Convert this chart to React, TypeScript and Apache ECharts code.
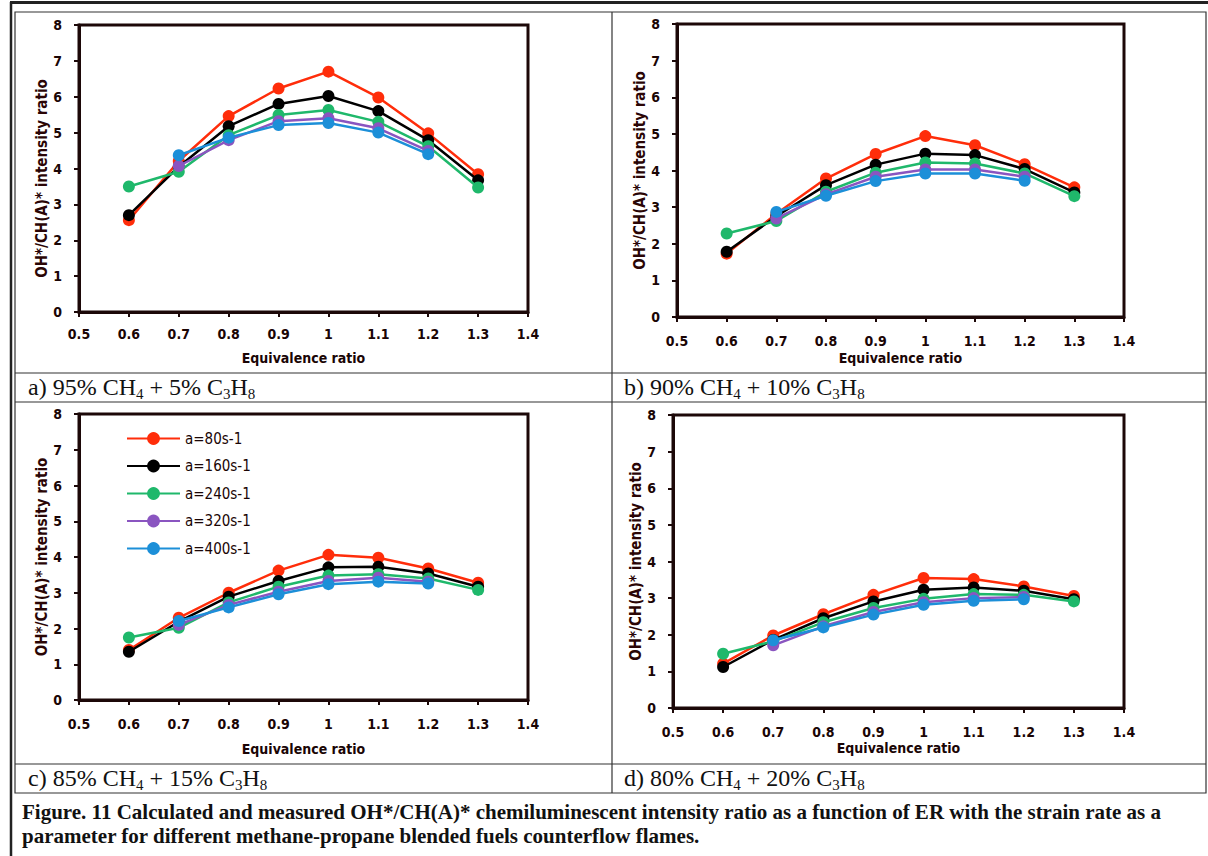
import React, { useEffect, useRef } from "react";
import * as echarts from "echarts";

// ---------- data ----------
const ER = [0.6, 0.7, 0.8, 0.9, 1.0, 1.1, 1.2, 1.3];
const SERIES_NAMES = ["a=80s-1", "a=160s-1", "a=240s-1", "a=320s-1", "a=400s-1"];
const SERIES_COLORS = ["#ff2d0a", "#000000", "#1fb86b", "#8a55c0", "#1c8fd8"];

// a) 95% CH4 + 5% C3H8
const A_80 = [2.56, 4.21, 5.46, 6.23, 6.7, 5.98, 4.98, 3.84];
const A_160 = [2.7, 4.05, 5.18, 5.8, 6.02, 5.6, 4.79, 3.67];
const A_240 = [3.5, 3.91, 4.93, 5.49, 5.63, 5.3, 4.62, 3.47];
const A_320 = [null, 4.07, 4.79, 5.32, 5.4, 5.12, 4.49, null];
const A_400 = [null, 4.37, 4.86, 5.21, 5.27, 5.0, 4.4, null];

// b) 90% CH4 + 10% C3H8
const B_80 = [1.73, 2.82, 3.78, 4.45, 4.94, 4.69, 4.17, 3.54];
const B_160 = [1.78, 2.75, 3.6, 4.16, 4.46, 4.42, 4.04, 3.4];
const B_240 = [2.28, 2.62, 3.42, 3.94, 4.22, 4.19, 3.92, 3.3];
const B_320 = [null, 2.69, 3.35, 3.83, 4.03, 4.03, 3.83, null];
const B_400 = [null, 2.87, 3.31, 3.71, 3.92, 3.92, 3.72, null];

// c) 85% CH4 + 15% C3H8
const C_80 = [1.4, 2.3, 3.0, 3.62, 4.06, 3.98, 3.68, 3.28];
const C_160 = [1.35, 2.19, 2.89, 3.33, 3.71, 3.73, 3.54, 3.17];
const C_240 = [1.75, 2.02, 2.73, 3.17, 3.48, 3.52, 3.4, 3.08];
const C_320 = [null, 2.1, 2.66, 3.03, 3.33, 3.42, 3.31, null];
const C_400 = [null, 2.21, 2.59, 2.96, 3.24, 3.31, 3.26, null];

// d) 80% CH4 + 20% C3H8
const D_80 = [1.21, 1.98, 2.56, 3.09, 3.55, 3.52, 3.32, 3.06];
const D_160 = [1.12, 1.86, 2.45, 2.91, 3.23, 3.29, 3.2, 2.97];
const D_240 = [1.48, 1.82, 2.34, 2.73, 2.98, 3.11, 3.09, 2.91];
const D_320 = [null, 1.71, 2.23, 2.62, 2.89, 3.0, 3.03, null];
const D_400 = [null, 1.85, 2.2, 2.55, 2.82, 2.93, 2.97, null];

const X_MIN = 0.5;
const X_MAX = 1.4;
const X_STEP = 0.1;
const Y_MIN = 0;
const Y_MAX = 8;
const Y_STEP = 1;

const X_NAME = "Equivalence ratio";
const Y_NAME = "OH*/CH(A)* intensity ratio";

const CAPTIONS = [
  ["a) 95% CH", "4", " + 5% C", "3", "H", "8"],
  ["b) 90% CH", "4", " + 10% C", "3", "H", "8"],
  ["c) 85% CH", "4", " + 15% C", "3", "H", "8"],
  ["d) 80% CH", "4", " + 20% C", "3", "H", "8"],
];
const FIG_CAPTION_1 =
  "Figure. 11 Calculated and measured OH*/CH(A)* chemiluminescent intensity ratio as a function of ER with the strain rate as a";
const FIG_CAPTION_2 = "parameter for different methane-propane blended fuels counterflow flames.";

const PANEL_DATA = [
  [A_80, A_160, A_240, A_320, A_400],
  [B_80, B_160, B_240, B_320, B_400],
  [C_80, C_160, C_240, C_320, C_400],
  [D_80, D_160, D_240, D_320, D_400],
];

// ---------- layout ----------
const PANELS = [
  { left: 79, top: 25, width: 449, height: 287, xMargin: 15, xGap: 39, yGap: 21, yShift: 20, capX: 28, capY: 387 },
  { left: 677, top: 24, width: 447, height: 293, xMargin: 17, xGap: 34, yGap: 25, yShift: 0, capX: 624, capY: 387 },
  { left: 79, top: 414, width: 449, height: 286, xMargin: 17, xGap: 42, yGap: 23, yShift: 0, capX: 28, capY: 778 },
  { left: 673, top: 415, width: 451, height: 293, xMargin: 17, xGap: 33, yGap: 21, yShift: 0, capX: 624, capY: 778 },
];

const NARROW = "'Liberation Sans Narrow', 'DejaVu Sans Condensed', 'Liberation Sans', sans-serif";
const SERIF = "'Liberation Serif', 'Times New Roman', serif";
const AXIS_COLOR = "#1c0808";
const TEXT_COLOR = "#1a0505";

function fmtX(v: number) {
  return String(Math.round(v * 10) / 10);
}

function buildOption() {
  const grid: any[] = [];
  const xAxis: any[] = [];
  const yAxis: any[] = [];
  const series: any[] = [];
  const graphic: any[] = [];

  PANELS.forEach((p, i) => {
    grid.push({
      left: p.left,
      top: p.top,
      width: p.width,
      height: p.height,
      show: true,
      borderColor: AXIS_COLOR,
      borderWidth: 3,
      backgroundColor: "transparent",
    });
    xAxis.push({
      type: "value",
      gridIndex: i,
      min: X_MIN,
      max: X_MAX,
      interval: X_STEP,
      name: X_NAME,
      nameLocation: "middle",
      nameGap: p.xGap,
      nameTextStyle: { fontFamily: NARROW, fontWeight: "bold", fontSize: 14, color: TEXT_COLOR },
      axisLine: { show: true, lineStyle: { color: AXIS_COLOR, width: 3 } },
      axisTick: { show: true, inside: false, length: 5, lineStyle: { color: AXIS_COLOR, width: 2 } },
      axisLabel: {
        margin: p.xMargin,
        formatter: fmtX,
        fontFamily: NARROW,
        fontWeight: "bold",
        fontSize: 14,
        color: TEXT_COLOR,
      },
      splitLine: { show: false },
    });
    yAxis.push({
      type: "value",
      gridIndex: i,
      min: Y_MIN,
      max: Y_MAX,
      interval: Y_STEP,
      name: Y_NAME,
      nameLocation: "middle",
      nameGap: p.yGap,
      nameTextStyle: {
        fontFamily: NARROW,
        fontWeight: "bold",
        fontSize: 15,
        color: "#2a0505",
        padding: [0, p.yShift, 0, 0],
      },
      axisLine: { show: true, lineStyle: { color: AXIS_COLOR, width: 3 } },
      axisTick: { show: true, inside: false, length: 5, lineStyle: { color: AXIS_COLOR, width: 2 } },
      axisLabel: { margin: 17, fontFamily: NARROW, fontWeight: "bold", fontSize: 14, color: TEXT_COLOR },
      splitLine: { show: false },
    });
    PANEL_DATA[i].forEach((vals, k) => {
      const data: number[][] = [];
      ER.forEach((x, j) => {
        const v = vals[j];
        if (v !== null && v !== undefined) data.push([x, v]);
      });
      series.push({
        type: "line",
        name: SERIES_NAMES[k],
        xAxisIndex: i,
        yAxisIndex: i,
        data,
        symbol: "circle",
        symbolSize: 12,
        showSymbol: true,
        color: SERIES_COLORS[k],
        lineStyle: { width: 2.5, color: SERIES_COLORS[k] },
        itemStyle: { color: SERIES_COLORS[k] },
        z: 2 + k,
      });
    });

    const c = CAPTIONS[i];
    graphic.push({
      type: "text",
      x: p.capX,
      y: p.capY,
      style: {
        text: `{n|${c[0]}}{s|${c[1]}}{n|${c[2]}}{s|${c[3]}}{n|${c[4]}}{s|${c[5]}}`,
        textVerticalAlign: "middle",
        textAlign: "left",
        rich: {
          n: { fontFamily: SERIF, fontSize: 24, lineHeight: 28, verticalAlign: "middle", fill: "#111" },
          s: { fontFamily: SERIF, fontSize: 15, lineHeight: 15, verticalAlign: "bottom", fill: "#111" },
        },
      },
    });
  });

  // table lines
  const L = (x1: number, y1: number, x2: number, y2: number, w: number, color = "#2a2a2a") => ({
    type: "line",
    shape: { x1, y1, x2, y2 },
    style: { stroke: color, lineWidth: w },
    silent: true,
  });
  graphic.push(L(10, 2.5, 1208, 2.5, 3, "#222"));
  graphic.push(L(11, 2, 11, 856, 2.5, "#222"));
  graphic.push({
    type: "rect",
    shape: { x: 15, y: 12, width: 1191, height: 781 },
    style: { stroke: "#333", lineWidth: 1.2, fill: "transparent" },
    silent: true,
  });
  graphic.push(L(612, 12, 612, 793, 1.2, "#333"));
  graphic.push(L(15, 373, 1206, 373, 1.2, "#333"));
  graphic.push(L(15, 402, 1206, 402, 1.2, "#333"));
  graphic.push(L(15, 764, 1206, 764, 1.2, "#333"));

  graphic.push({
    type: "text",
    x: 22,
    y: 812,
    style: {
      text: FIG_CAPTION_1,
      font: `bold 21px ${SERIF}`,
      fill: "#111",
      textVerticalAlign: "middle",
      textAlign: "left",
    },
  });
  graphic.push({
    type: "text",
    x: 22,
    y: 836,
    style: {
      text: FIG_CAPTION_2,
      font: `bold 21px ${SERIF}`,
      fill: "#111",
      textVerticalAlign: "middle",
      textAlign: "left",
    },
  });

  return {
    animation: false,
    backgroundColor: "#ffffff",
    grid,
    xAxis,
    yAxis,
    series,
    graphic,
    legend: {
      data: SERIES_NAMES,
      orient: "vertical",
      left: 121,
      top: 426,
      itemWidth: 53,
      itemHeight: 16,
      itemGap: 12.5,
      textStyle: { fontFamily: NARROW, fontSize: 15, color: TEXT_COLOR },
    },
  };
}

export default function App() {
  const ref = useRef<HTMLDivElement>(null);
  useEffect(() => {
    if (!ref.current) return;
    const chart = echarts.init(ref.current, undefined, { renderer: "svg" });
    chart.setOption(buildOption() as any);
    return () => chart.dispose();
  }, []);
  return (
    <div
      ref={ref}
      style={{ position: "absolute", left: 0, top: 0, width: 1208, height: 856, background: "#fff" }}
    />
  );
}
